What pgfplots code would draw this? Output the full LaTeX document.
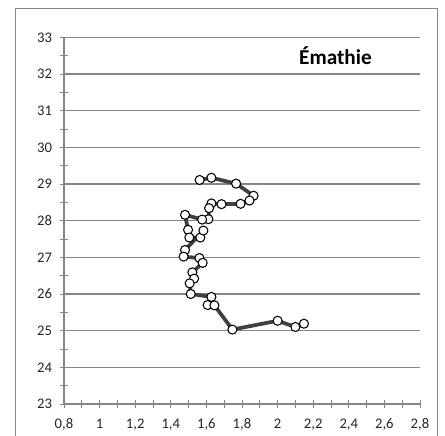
\documentclass[border=0pt]{standalone}
\usepackage{fontspec}
\setmainfont{Carlito}
\usepackage{pgfplots}
\pgfplotsset{compat=1.18}
\definecolor{axgray}{HTML}{868686}
\definecolor{linegray}{HTML}{404040}
\begin{document}
\begin{tikzpicture}
\useasboundingbox (0pt,0pt) rectangle (333.75pt,-326.25pt);
\begin{scope}
\clip (0pt,0pt) rectangle (333.75pt,-326.25pt);
\draw[axgray, line width=0.75pt] (11.25pt,-6.75pt) rectangle (327.75pt,-340pt);
\end{scope}
\begin{axis}[
  at={(48pt,-303pt)}, anchor=south west,
  x=133.5pt, y=27.5pt,
  xmin=0.8, xmax=2.8, ymin=23, ymax=33,
  axis x line*=bottom, axis y line*=left,
  axis line style={axgray, line width=1pt, -},
  xtick={0.8,1,1.2,1.4,1.6,1.8,2,2.2,2.4,2.6,2.8},
  ytick={23,24,25,26,27,28,29,30,31,32,33},
  minor x tick num=1, minor y tick num=1,
  tick align=center,
  major tick length=6pt, minor tick length=6pt,
  every tick/.style={axgray, line width=0.75pt},
  ymajorgrids,
  major grid style={axgray, line width=0.9pt},
  ticklabel style={font=\fontsize{11}{13}\selectfont, text=black!85},
  /pgf/number format/assume math mode=true,
  xticklabel style={yshift=-4.5pt, /pgf/number format/.cd, fixed, use comma, precision=1},
  yticklabel style={xshift=-2.5pt, /pgf/number format/.cd, fixed, precision=0},
  clip=false,
]
\addplot[linegray, line width=2.8pt, line join=round,
  mark=*, mark size=3.4pt,
  mark options={fill=white, draw=black, line width=0.8pt, solid}]
coordinates {
(1.562,29.11) (1.628,29.17) (1.767,29.01) (1.865,28.68) (1.842,28.55)
(1.792,28.46) (1.685,28.45) (1.628,28.47) (1.615,28.34) (1.611,28.04)
(1.576,28.03) (1.480,28.16) (1.497,27.75) (1.504,27.54) (1.566,27.54)
(1.583,27.73) (1.480,27.20) (1.472,27.02) (1.561,26.98) (1.579,26.85)
(1.521,26.59) (1.531,26.42) (1.506,26.29) (1.512,26.00) (1.628,25.92)
(1.607,25.70) (1.645,25.69) (1.746,25.03) (2.000,25.27) (2.100,25.10)
(2.148,25.19)
};
\node[anchor=base, font=\bfseries\fontsize{15.9}{18}\selectfont] at (axis cs:2.325,32.25) {Émathie};
\end{axis}
\end{tikzpicture}
\end{document}
